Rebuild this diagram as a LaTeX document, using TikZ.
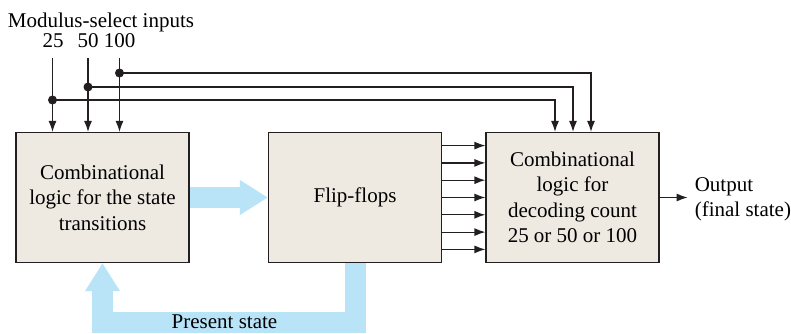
\documentclass[tikz,border=0pt]{standalone}
\usepackage{fontspec}
\setmainfont{Liberation Serif}
\usetikzlibrary{positioning}
\usetikzlibrary{arrows.meta}
\definecolor{boxfill}{RGB}{238,234,225}
\definecolor{flowblue}{RGB}{185,228,248}
\definecolor{linegray}{RGB}{35,31,32}

\begin{document}
\begin{tikzpicture}[x=1pt,y=-1pt,node distance=252.5pt,on grid,
   font=\fontsize{21}{25.5}\selectfont,
   block/.style={draw=linegray,line width=1.2pt,fill=boxfill,minimum width=173pt,
                 minimum height=130pt,align=center,inner sep=0pt},
   sig/.style={draw=linegray,line width=1.2pt,-{Latex[length=11pt,width=8pt]}},
   fat/.style={draw=flowblue,line width=21pt,-{Triangle[length=28pt,width=33pt]}}]
   \useasboundingbox (0,0) rectangle (791,334);
   \node[block] (cl) at (102.5,197.5) {Combinational\\logic for the state\\transitions};
   \node[block] (ff) [right=of cl] {Flip-flops};
   \node[block] (dec) [right=217.5pt of ff] {Combinational\\logic for\\decoding count\\25 or 50 or 100};
   % modulus select
   \node[anchor=base] (title) at (101,28) {Modulus-select inputs};
   \node[anchor=base] (n25) at (53,48) {25};
   \node[anchor=base] (n50) at (88,48) {50};
   \node[anchor=base] (n100) at (119.5,48) {100};
   \coordinate (s25) at (52.5,58);
   \coordinate (s50) at (88,58);
   \coordinate (s100) at (119.5,58);
   \coordinate (j25) at (52.5,100);
   \coordinate (j50) at (88,87);
   \coordinate (j100) at (119.5,73);
   \coordinate (d25) at (555,0);
   \coordinate (d50) at (573,0);
   \coordinate (d100) at (591,0);
   \draw[sig] (s25) -- (s25 |- cl.north);
   \draw[sig] (s50) -- (s50 |- cl.north);
   \draw[sig] (s100) -- (s100 |- cl.north);
   \draw[sig] (j25) -| (d25 |- dec.north);
   \draw[sig] (j50) -| (d50 |- dec.north);
   \draw[sig] (j100) -| (d100 |- dec.north);
   \foreach \j in {j25,j50,j100}
      \fill[linegray] (\j) circle[radius=4.5pt];
   % flip-flop outputs
   \foreach \k in {-3,...,3}
      \draw[sig] ([yshift=\k*17.3pt]ff.east) -- ([yshift=\k*17.3pt]dec.west);
   % state flow
   \draw[fat] (cl.east) -- (ff.west);
   \draw[fat] (ff.south) -- ++(0,59.5) -| (cl.south);
   \node (ps) at (224.5,322) {Present state};
   % output
   \draw[sig] (dec.east) -- ++(28,0) coordinate (o);
   \node[anchor=west,align=left,inner sep=0pt] (outtxt) at ([xshift=7pt,yshift=-2pt]o) {Output\\(final state)};
\end{tikzpicture}
\end{document}
